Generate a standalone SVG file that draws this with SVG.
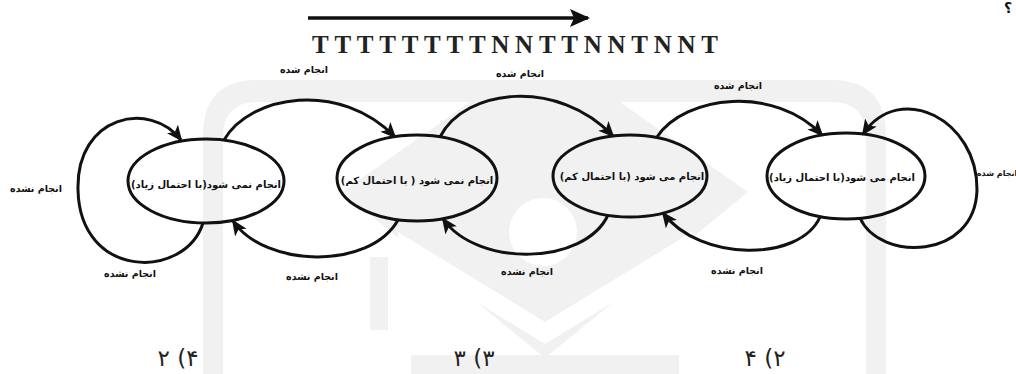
<svg xmlns="http://www.w3.org/2000/svg" width="1016" height="374" viewBox="0 0 1016 374">
  <style>
    .wm { fill: #f1f1f1; stroke: none; }
    .edge { fill: none; stroke: #111; stroke-width: 3; }
    .node { fill: none; stroke: #111; stroke-width: 3; }
    .fa { font-family: "DejaVu Sans", "Noto Sans", sans-serif; font-weight: bold; fill: #111; }
    .nl { font-size: 10px; }
    .el { font-size: 9.5px; }
    .num { font-family: "DejaVu Sans", "Noto Sans", sans-serif; font-size: 23px; fill: #222; }
    .seq { font-family: "Liberation Serif", "Times New Roman", serif; font-weight: bold; font-size: 25px; fill: #222; }
  </style>
  <defs>
    <marker id="ah" markerUnits="userSpaceOnUse" markerWidth="16" markerHeight="14" refX="14" refY="7" orient="auto">
      <path d="M0,0 L16,7 L0,14 L4,7 Z" fill="#111"/>
    </marker>
    <marker id="bigah" markerUnits="userSpaceOnUse" markerWidth="20" markerHeight="18" refX="18" refY="9" orient="auto">
      <path d="M0,0 L20,9 L0,18 L4,9 Z" fill="#111"/>
    </marker>
  </defs>
  <rect width="1016" height="374" fill="#fff"/>

  <g id="watermark">
    <path class="wm" fill-rule="evenodd" d="M203,400 L203,135 Q203,80 258,80 L831,80 Q886,80 886,135 L886,400 Z M223,400 L223,137 Q223,102 258,102 L831,102 Q866,102 866,137 L866,400 Z"/>
    <polygon class="wm" points="342,192 470,102 620,102 748,192 545,358"/>
    <polygon fill="#fff" points="398,232 545,322 692,232 692,254 545,344 398,254"/>
    <circle cx="543" cy="232" r="34" fill="#fff"/>
    <rect class="wm" x="370" y="257" width="18" height="73"/>
    <rect class="wm" x="411" y="355" width="268" height="19"/>
  </g>

  <g id="sequence">
    <line x1="308" y1="18" x2="588" y2="18" stroke="#111" stroke-width="3.5" marker-end="url(#bigah)"/>
    <text class="seq" x="312" y="53" textLength="406" lengthAdjust="spacing">TTTTTTTTNNTTNNTNNT</text>
  </g>

  <g id="connectors">
    <path class="edge" d="M224,140 C250,95 340,80 395,137" marker-end="url(#ah)"/>
    <path class="edge" d="M440,137 C465,88 558,78 613,136" marker-end="url(#ah)"/>
    <path class="edge" d="M657,137 C685,95 775,85 822,135" marker-end="url(#ah)"/>
    <path class="edge" d="M860,218 C880,262 975,260 977,190 C978,120 900,80 863,134" marker-end="url(#ah)"/>
    <path class="edge" d="M203,223 C185,280 80,280 78,190 C76,115 150,100 181,140" marker-end="url(#ah)"/>
    <path class="edge" d="M398,220 C370,270 265,268 233,221" marker-end="url(#ah)"/>
    <path class="edge" d="M608,215 C585,265 478,268 443,219" marker-end="url(#ah)"/>
    <path class="edge" d="M820,217 C800,262 700,262 663,213" marker-end="url(#ah)"/>
  </g>

  <g id="edge-labels">
    <text class="fa el" x="304" y="73" text-anchor="middle" direction="rtl">انجام شده</text>
    <text class="fa el" x="520" y="77" text-anchor="middle" direction="rtl">انجام شده</text>
    <text class="fa el" x="738" y="89" text-anchor="middle" direction="rtl">انجام شده</text>
    <text class="fa" font-size="8px" x="997" y="176" text-anchor="middle" direction="rtl">انجام شده</text>
    <text class="fa el" x="36" y="192" text-anchor="middle" direction="rtl">انجام نشده</text>
    <text class="fa el" x="130" y="277" text-anchor="middle" direction="rtl">انجام نشده</text>
    <text class="fa el" x="312" y="280" text-anchor="middle" direction="rtl">انجام نشده</text>
    <text class="fa el" x="527" y="275" text-anchor="middle" direction="rtl">انجام نشده</text>
    <text class="fa el" x="737" y="274" text-anchor="middle" direction="rtl">انجام نشده</text>
  </g>

  <g id="node-1">
    <ellipse class="node" cx="206" cy="181" rx="78" ry="42"/>
    <text class="fa nl" x="206" y="188" text-anchor="middle" direction="rtl">انجام نمی شود(با احتمال زیاد)</text>
  </g>
  <g id="node-2">
    <ellipse class="node" cx="417" cy="178" rx="80" ry="43"/>
    <text class="fa nl" x="417" y="184" text-anchor="middle" direction="rtl">انجام نمی شود ( با احتمال کم)</text>
  </g>
  <g id="node-3">
    <ellipse class="node" cx="630" cy="176" rx="77" ry="41"/>
    <text class="fa nl" x="632" y="180" text-anchor="middle" direction="rtl">انجام می شود (با احتمال کم)</text>
  </g>
  <g id="node-4">
    <ellipse class="node" cx="846" cy="176" rx="79" ry="43"/>
    <text class="fa nl" x="842" y="181" text-anchor="middle" direction="rtl">انجام می شود(با احتمال زیاد)</text>
  </g>

  <g id="options">
    <text class="num" x="178" y="366" text-anchor="middle" direction="rtl">۴) ۲</text>
    <text class="num" x="474" y="366" text-anchor="middle" direction="rtl">۳) ۳</text>
    <text class="num" x="765" y="366" text-anchor="middle" direction="rtl">۲) ۴</text>
  </g>
  <text class="fa" x="1008" y="13" font-size="14" text-anchor="middle">؟</text>
</svg>
